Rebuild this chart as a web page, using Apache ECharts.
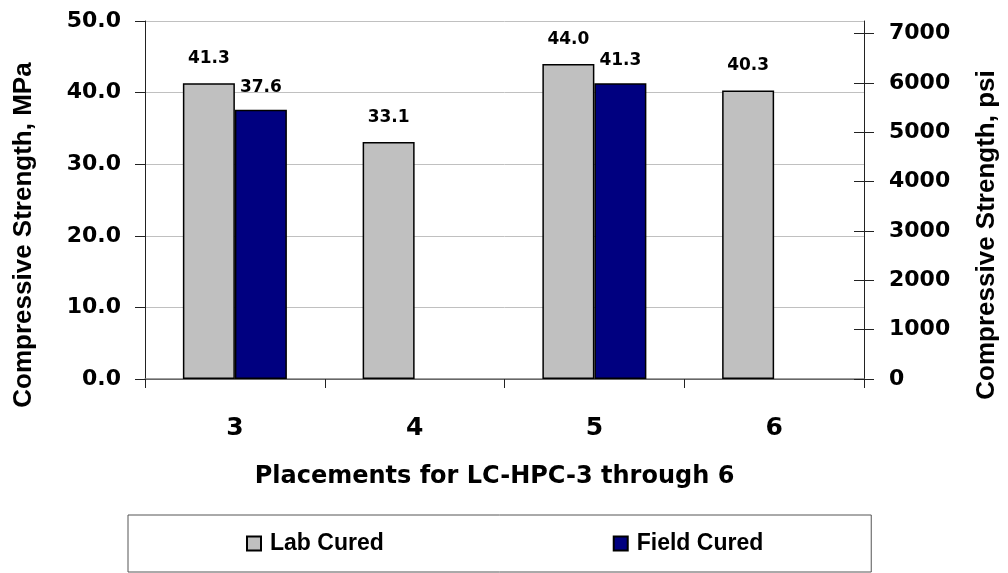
<!DOCTYPE html>
<html>
<head>
<meta charset="utf-8">
<script src="https://cdn.jsdelivr.net/npm/echarts@6/dist/echarts.min.js"></script>
<style>
  html, body { margin: 0; padding: 0; background: #fff; }
  #chart { width: 1008px; height: 573px; }
</style>
</head>
<body>
<div id="chart"></div>
<script>
var placements = ["3", "4", "5", "6"];
var labCured = [41.3, 33.1, 44.0, 40.3];
var fieldCured = [37.6, "-", 41.3, "-"];
var mpaTicks = [0, 10, 20, 30, 40, 50];
var psiTicks = [0, 1000, 2000, 3000, 4000, 5000, 6000, 7000];

var PSI_PER_MPA = 145.0377;
var wide = "DejaVu Sans";
var arial = "Liberation Sans, Arial, sans-serif";

var chart = echarts.init(document.getElementById("chart"));

var option = {
  backgroundColor: "#ffffff",
  animation: false,
  grid: { left: 145, right: 142, top: 21, bottom: 194 },
  legend: {
    left: 128,
    top: 515,
    padding: [17, 108, 17, 118],
    borderColor: "#555",
    borderWidth: 1,
    itemGap: 229,
    itemWidth: 14,
    itemHeight: 14,
    icon: "rect",
    textStyle: {
      fontFamily: arial,
      fontWeight: "bold",
      fontSize: 23,
      color: "#000",
      padding: [0, 0, 0, 4]
    },
    data: ["Lab Cured", "Field Cured"]
  },
  xAxis: [
    {
      type: "category",
      data: placements,
      name: "Placements for LC-HPC-3 through 6",
      nameLocation: "middle",
      nameGap: 86,
      nameTextStyle: {
        fontFamily: wide, fontWeight: "bold", fontSize: 24, color: "#000",
        padding: [0, 20, 0, 0]
      },
      axisLine: { lineStyle: { color: "#222", width: 1 } },
      axisTick: { show: true, length: 9, lineStyle: { color: "#222" } },
      axisLabel: {
        margin: 37, fontFamily: wide, fontWeight: "bold", fontSize: 25, color: "#000"
      }
    },
    {
      type: "category",
      data: placements,
      position: "top",
      axisLine: { lineStyle: { color: "#808080", width: 1.5 } },
      axisTick: { show: false },
      axisLabel: { show: false }
    }
  ],
  yAxis: [
    {
      type: "value",
      min: 0,
      max: 50,
      interval: 10,
      name: "Compressive Strength, MPa",
      nameLocation: "middle",
      nameGap: 108,
      nameTextStyle: {
        fontFamily: arial, fontWeight: "bold", fontSize: 26, color: "#000",
        padding: [0, 70, 0, 0]
      },
      axisLine: { show: true, lineStyle: { color: "#222", width: 1 } },
      axisTick: { show: true, length: 10, lineStyle: { color: "#222" } },
      axisLabel: {
        margin: 24, fontFamily: wide, fontWeight: "bold", fontSize: 22, color: "#000",
        customValues: mpaTicks,
        formatter: function (v) { return v.toFixed(1); }
      },
      splitLine: { show: true, lineStyle: { color: "#c0c0c0", width: 1 } }
    },
    {
      type: "value",
      position: "right",
      min: 0,
      max: 50 * PSI_PER_MPA,
      name: "Compressive Strength, psi",
      nameLocation: "middle",
      nameGap: 110,
      nameTextStyle: {
        fontFamily: arial, fontWeight: "bold", fontSize: 26, color: "#000",
        padding: [0, 70, 0, 0]
      },
      axisLine: { show: true, lineStyle: { color: "#222", width: 1 } },
      axisTick: { show: true, length: 10, customValues: psiTicks, lineStyle: { color: "#222" } },
      axisLabel: {
        margin: 25, fontFamily: wide, fontWeight: "bold", fontSize: 22, color: "#000",
        customValues: psiTicks,
        formatter: function (v) { return String(Math.round(v)); }
      },
      splitLine: { show: false }
    },
    {
      type: "value",
      position: "right",
      min: 0,
      max: 50 * PSI_PER_MPA,
      axisLine: { show: false },
      axisTick: { show: true, inside: true, length: 10, customValues: psiTicks, lineStyle: { color: "#222" } },
      axisLabel: { show: false },
      splitLine: { show: false }
    }
  ],
  series: [
    {
      name: "Lab Cured",
      type: "bar",
      data: labCured,
      barWidth: 52,
      barGap: "0%",
      itemStyle: { color: "#c0c0c0", borderColor: "#000", borderWidth: 1.5 },
      label: {
        show: true, position: "top", distance: 16,
        fontFamily: wide, fontWeight: "bold", fontSize: 17, color: "#000",
        formatter: function (p) { return p.value.toFixed(1); }
      }
    },
    {
      name: "Field Cured",
      type: "bar",
      data: fieldCured,
      barWidth: 52,
      barGap: "0%",
      itemStyle: { color: "#000080", borderColor: "#000", borderWidth: 1.5 },
      label: {
        show: true, position: "top", distance: 14,
        fontFamily: wide, fontWeight: "bold", fontSize: 17, color: "#000",
        formatter: function (p) { return p.value.toFixed(1); }
      }
    }
  ]
};

chart.setOption(option);
</script>
</body>
</html>
